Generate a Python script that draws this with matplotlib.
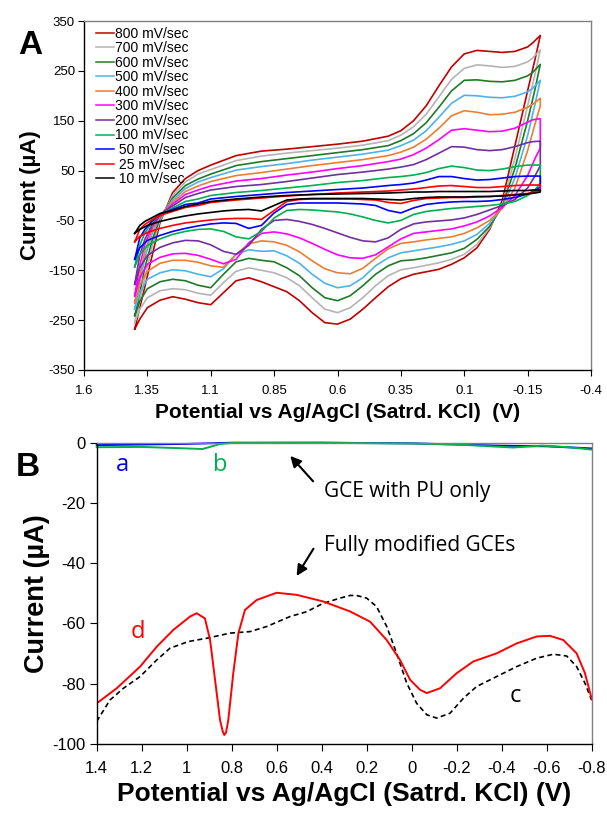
import matplotlib
matplotlib.use("Agg")
import matplotlib.pyplot as plt
from matplotlib.ticker import FixedLocator, FixedFormatter

plt.rcParams['font.family'] = ['Liberation Sans', 'DejaVu Sans']
plt.rcParams['axes.unicode_minus'] = False

# ---------------- Panel A data (cyclic voltammograms) ----------------
lower_potential = [1.40, 1.38, 1.35, 1.30, 1.25, 1.20, 1.15, 1.10, 1.05, 1.00, 0.95, 0.90,
                   0.85, 0.80, 0.75, 0.70, 0.65, 0.60, 0.55, 0.50, 0.45, 0.40, 0.35, 0.30,
                   0.25, 0.20, 0.15, 0.10, 0.05, 0.00, -0.05, -0.10, -0.15, -0.18, -0.20]
upper_potential = [-0.20, -0.17, -0.15, -0.10, -0.05, 0.00, 0.05, 0.10, 0.15, 0.20, 0.25, 0.30,
                   0.35, 0.40, 0.50, 0.60, 0.70, 0.80, 0.90, 1.00, 1.10, 1.15, 1.20, 1.25,
                   1.30, 1.33, 1.36, 1.38, 1.40]

i800_lower = [-268, -248, -225, -210, -203, -208, -215, -219, -195, -171, -165, -173, -183, -193, -211, -235, -255, -258, -248, -228, -205, -183, -167, -158, -153, -148, -138, -125, -105, -68, -10, 100, 210, 275, 321]
i700_lower = [-255, -228, -205, -191, -187, -189, -196, -200, -175, -152, -145, -150, -155, -165, -181, -205, -228, -235, -225, -205, -181, -161, -149, -145, -140, -135, -128, -118, -98, -65, -18, 75, 180, 245, 292]
i600_lower = [-241, -212, -187, -173, -168, -171, -180, -185, -158, -133, -126, -130, -133, -145, -161, -185, -205, -211, -201, -181, -158, -141, -131, -129, -125, -120, -115, -106, -88, -62, -22, 55, 150, 215, 263]
i500_lower = [-228, -195, -168, -155, -149, -151, -158, -163, -147, -118, -109, -112, -111, -121, -136, -158, -176, -185, -181, -165, -141, -125, -115, -111, -107, -103, -98, -91, -78, -56, -24, 35, 120, 185, 231]
i400_lower = [-215, -180, -152, -136, -130, -130, -134, -141, -144, -118, -97, -91, -93, -100, -113, -131, -147, -155, -157, -146, -126, -107, -96, -93, -89, -86, -83, -76, -65, -50, -26, 15, 90, 145, 180]
i300_lower = [-201, -165, -138, -124, -117, -116, -120, -128, -137, -128, -95, -76, -73, -77, -85, -96, -108, -119, -125, -126, -119, -103, -87, -76, -73, -70, -67, -61, -53, -41, -24, 0, 40, 75, 95]
i200_lower = [-178, -145, -120, -104, -95, -90, -91, -99, -112, -118, -100, -68, -50, -48, -52, -58, -66, -75, -84, -91, -93, -85, -68, -57, -53, -51, -49, -45, -38, -29, -20, -8, 15, 40, 60]
i100_lower = [-143, -118, -100, -87, -78, -72, -68, -67, -72, -83, -87, -72, -45, -30, -28, -29, -31, -33, -37, -43, -50, -55, -50, -38, -32, -29, -26, -24, -22, -20, -17, -12, 0, 12, 25]
i50_lower = [-128, -105, -90, -80, -72, -66, -61, -57, -55, -56, -66, -60, -35, -18, -15, -15, -15, -15, -16, -17, -20, -30, -35, -25, -18, -15, -13, -12, -12, -11, -8, -4, 3, 10, 17]
i25_lower = [-93, -82, -74, -66, -60, -55, -52, -49, -47, -46, -46, -48, -30, -12, -8, -7, -7, -7, -7, -8, -9, -14, -16, -10, -6, -5, -4, -4, -3, -2, 0, 2, 4, 7, 10]
i10_lower = [-76, -68, -60, -52, -46, -41, -37, -34, -31, -29, -28, -31, -20, -9, -7, -6, -6, -6, -6, -6, -7, -8, -9, -6, -4, -3, -3, -3, -2, -2, -1, 1, 3, 5, 7]

i800_upper = [321, 306, 298, 289, 287, 289, 291, 284, 258, 220, 180, 150, 130, 119, 109, 103, 98, 93, 89, 80, 61, 50, 34, 6, -54, -118, -183, -225, -268]
i700_upper = [292, 276, 268, 259, 257, 260, 262, 255, 233, 198, 163, 138, 121, 110, 101, 95, 90, 85, 79, 70, 52, 43, 27, 0, -50, -100, -165, -212, -255]
i600_upper = [263, 247, 240, 231, 228, 229, 232, 231, 210, 177, 146, 124, 110, 100, 92, 86, 80, 74, 68, 60, 43, 33, 20, -5, -45, -88, -145, -195, -241]
i500_upper = [231, 215, 208, 199, 196, 197, 200, 201, 185, 157, 130, 111, 100, 91, 83, 77, 71, 64, 58, 51, 36, 27, 14, -9, -42, -75, -125, -175, -228]
i400_upper = [195, 183, 177, 167, 163, 162, 167, 170, 160, 135, 113, 97, 87, 80, 72, 66, 60, 53, 46, 40, 28, 19, 8, -13, -40, -68, -112, -160, -215]
i300_upper = [154, 152, 147, 135, 129, 128, 131, 134, 131, 112, 95, 82, 73, 68, 60, 54, 47, 41, 34, 29, 19, 11, 2, -17, -40, -62, -98, -140, -201]
i200_upper = [109, 108, 106, 98, 92, 90, 92, 97, 98, 85, 72, 62, 57, 53, 47, 42, 35, 28, 22, 18, 11, 4, -4, -21, -38, -57, -88, -120, -178]
i100_upper = [61, 61, 61, 58, 53, 50, 51, 56, 59, 54, 46, 41, 38, 36, 30, 26, 20, 15, 10, 6, 0, -7, -12, -25, -38, -52, -75, -100, -143]
i50_upper = [39, 39, 39, 38, 35, 32, 31, 34, 38, 38, 31, 25, 22, 20, 15, 12, 9, 6, 2, -2, -7, -15, -18, -28, -38, -50, -68, -85, -128]
i25_upper = [21, 21, 21, 20, 18, 16, 16, 18, 20, 19, 16, 13, 11, 9, 7, 5, 2, -1, -5, -9, -14, -20, -24, -32, -40, -48, -58, -68, -93]
i10_upper = [11, 11, 10, 10, 9, 8, 8, 8, 8, 8, 7, 7, 6, 5, 4, 3, 2, 0, -3, -7, -12, -17, -22, -30, -36, -44, -52, -60, -76]

scan_labels = ["800 mV/sec", "700 mV/sec", "600 mV/sec", "500 mV/sec", "400 mV/sec",
               "300 mV/sec", "200 mV/sec", "100 mV/sec", " 50 mV/sec", " 25 mV/sec", " 10 mV/sec"]
scan_colors = ["#C00000", "#B4B4B4", "#1E7A28", "#4EB3E8", "#ED7D31",
               "#FF00FF", "#7030A0", "#00B050", "#0000FF", "#FF0000", "#000000"]
lower_sets = [i800_lower, i700_lower, i600_lower, i500_lower, i400_lower, i300_lower,
              i200_lower, i100_lower, i50_lower, i25_lower, i10_lower]
upper_sets = [i800_upper, i700_upper, i600_upper, i500_upper, i400_upper, i300_upper,
              i200_upper, i100_upper, i50_upper, i25_upper, i10_upper]

a_xticks = [1.6, 1.35, 1.1, 0.85, 0.6, 0.35, 0.1, -0.15, -0.4]
a_xticklabels = ["1.6", "1.35", "1.1", "0.85", "0.6", "0.35", "0.1", "-0.15", "-0.4"]
a_yticks = [350, 250, 150, 50, -50, -150, -250, -350]

# ---------------- Panel B data (DPV) ----------------
d_potential = [1.40, 1.311, 1.207, 1.133, 1.059, 0.985, 0.956, 0.919, 0.896, 0.874, 0.852, 0.840,
               0.833, 0.825, 0.815, 0.793, 0.770, 0.741, 0.689, 0.600, 0.511, 0.393, 0.274, 0.185,
               0.111, 0.052, 0.007, -0.037, -0.067, -0.126, -0.200, -0.274, -0.378, -0.467,
               -0.556, -0.615, -0.674, -0.733, -0.770, -0.800]
d_current = [-86.5, -81.5, -74.3, -67.7, -62.1, -57.7, -56.6, -58.3, -65.5, -78.7, -92.0, -95.8,
             -97.0, -96.2, -92.0, -76.5, -63.2, -55.5, -52.2, -49.8, -50.5, -52.7, -56.0, -59.4,
             -65.5, -72.1, -78.7, -82.0, -83.1, -81.5, -76.5, -72.6, -69.9, -66.6,
             -64.3, -64.1, -65.5, -69.9, -76.5, -85.0]
c_potential = [1.40, 1.341, 1.281, 1.207, 1.133, 1.074, 0.993, 0.911, 0.807, 0.719, 0.644, 0.541,
               0.467, 0.393, 0.319, 0.274, 0.245, 0.200, 0.156, 0.111, 0.067, 0.022, -0.022,
               -0.067, -0.111, -0.170, -0.230, -0.289, -0.378, -0.467, -0.556, -0.630, -0.689,
               -0.733, -0.770, -0.800]
c_current = [-92.5, -85.4, -81.5, -77.6, -72.1, -68.2, -66.0, -64.9, -63.2, -62.7, -61.0, -57.7,
             -56.1, -53.3, -51.6, -50.7, -50.7, -51.6, -54.4, -61.0, -69.9, -79.8, -86.5,
             -90.3, -91.4, -89.8, -84.8, -80.9, -77.6, -74.3, -71.5, -70.2, -70.8,
             -74.3, -79.8, -85.5]
a_potential = [1.40, 1.20, 1.00, 0.85, 0.80, 0.40, 0.00, -0.20, -0.40, -0.60, -0.80]
a_current = [-0.8, -0.6, -0.4, -0.1, 0.0, 0.0, -0.2, -0.6, -1.0, -1.2, -1.9]
b_potential = [1.40, 1.20, 1.00, 0.93, 0.85, 0.80, 0.40, 0.00, -0.20, -0.30, -0.45, -0.58, -0.70, -0.80]
b_current = [-1.5, -1.4, -1.9, -2.1, -0.4, -0.1, 0.0, -0.3, -0.6, -1.0, -1.6, -1.0, -1.5, -2.3]

b_xticks = [1.4, 1.2, 1.0, 0.8, 0.6, 0.4, 0.2, 0.0, -0.2, -0.4, -0.6, -0.8]
b_xticklabels = ["1.4", "1.2", "1", "0.8", "0.6", "0.4", "0.2", "0", "-0.2", "-0.4", "-0.6", "-0.8"]
b_yticks = [0, -20, -40, -60, -80, -100]

W, H = 607, 814
fig = plt.figure(figsize=(W / 100, H / 100), dpi=100)

def frac(l, t, r, b):
    return [l / W, 1 - b / H, (r - l) / W, (b - t) / H]

# ---------------- Panel A ----------------
axA = fig.add_axes(frac(84, 21, 591, 370))
for col, lab, lo, up in zip(scan_colors, scan_labels, lower_sets, upper_sets):
    xs = list(lower_potential) + list(upper_potential)
    ys = list(lo) + list(up)
    axA.plot(xs, ys, color=col, lw=1.2, label=lab, solid_joinstyle='round')
axA.set_xlim(1.6, -0.4)
axA.set_ylim(-350, 350)
axA.xaxis.set_major_locator(FixedLocator(a_xticks))
axA.xaxis.set_major_formatter(FixedFormatter(a_xticklabels))
axA.yaxis.set_major_locator(FixedLocator(a_yticks))
axA.tick_params(direction='out', length=4, width=0.8, labelsize=9.5)
axA.tick_params(axis='x', pad=7)
axA.tick_params(axis='y', pad=2.5)
for s in ['top', 'right']:
    axA.spines[s].set_color('#808080')
for s in axA.spines.values():
    s.set_linewidth(1.0)
axA.set_xlabel("Potential vs Ag/AgCl (Satrd. KCl)  (V)", fontsize=15, fontweight='bold', labelpad=4)
axA.set_ylabel("Current (µA)", fontsize=16, fontweight='bold', labelpad=5)
leg = axA.legend(loc='upper left', frameon=False, fontsize=10, handlelength=1.3,
                 handletextpad=0.1, labelspacing=0.04, borderaxespad=0.0,
                 bbox_to_anchor=(0.012, 1.0))
for h in leg.get_lines():
    h.set_linewidth(1.1)
fig.text(30 / W, 1 - 45 / H, "A", fontsize=24, fontweight='bold', ha='center', va='center')

# ---------------- Panel B ----------------
axB = fig.add_axes(frac(96.7, 442.7, 591.7, 744))
axB.plot(c_potential, c_current, color='black', lw=1.2, ls=(0, (3, 2)))
axB.plot(d_potential, d_current, color='#FF0000', lw=1.4)
axB.plot(a_potential, a_current, color='#0000FF', lw=1.4, clip_on=False)
axB.plot(b_potential, b_current, color='#00B050', lw=1.4, clip_on=False)
axB.set_xlim(1.4, -0.8)
axB.set_ylim(-100, 0)
axB.xaxis.set_major_locator(FixedLocator(b_xticks))
axB.xaxis.set_major_formatter(FixedFormatter(b_xticklabels))
axB.yaxis.set_major_locator(FixedLocator(b_yticks))
axB.tick_params(direction='out', length=5, width=0.8, labelsize=12)
axB.tick_params(axis='x', pad=7.5)
axB.tick_params(axis='y', pad=3)
for s in ['top', 'right']:
    axB.spines[s].set_color('#808080')
for s in axB.spines.values():
    s.set_linewidth(1.0)
axB.set_xlabel("Potential vs Ag/AgCl (Satrd. KCl) (V)", fontsize=19, fontweight='bold', labelpad=4)
axB.set_ylabel("Current (µA)", fontsize=19.5, fontweight='bold', labelpad=2)

tf = ['Open Sans', 'DejaVu Sans']
axB.text(1.284, -7.4, "a", color='#0000FF', fontsize=17, ha='center', va='center', family=tf)
axB.text(0.852, -7.4, "b", color='#00B050', fontsize=17, ha='center', va='center', family=tf)
axB.text(1.215, -62.7, "d", color='#FF0000', fontsize=17, ha='center', va='center', family=tf)
axB.text(-0.459, -84.1, "c", color='black', fontsize=17, ha='center', va='center', family=tf)
axB.text(0.39, -16.3, "GCE with PU only", fontsize=15, ha='left', va='center', family=tf)
axB.text(0.39, -34.0, "Fully modified GCEs", fontsize=15, ha='left', va='center', family=tf)
axB.annotate("", xy=(0.548, -3.7), xytext=(0.430, -13.5),
             arrowprops=dict(arrowstyle='-|>', color='black', lw=1.5, mutation_scale=16))
axB.annotate("", xy=(0.518, -45.0), xytext=(0.430, -34.4),
             arrowprops=dict(arrowstyle='-|>', color='black', lw=1.5, mutation_scale=16))
fig.text(28 / W, 1 - 468 / H, "B", fontsize=24, fontweight='bold', ha='center', va='center')

fig.savefig("out.png", dpi=100)
